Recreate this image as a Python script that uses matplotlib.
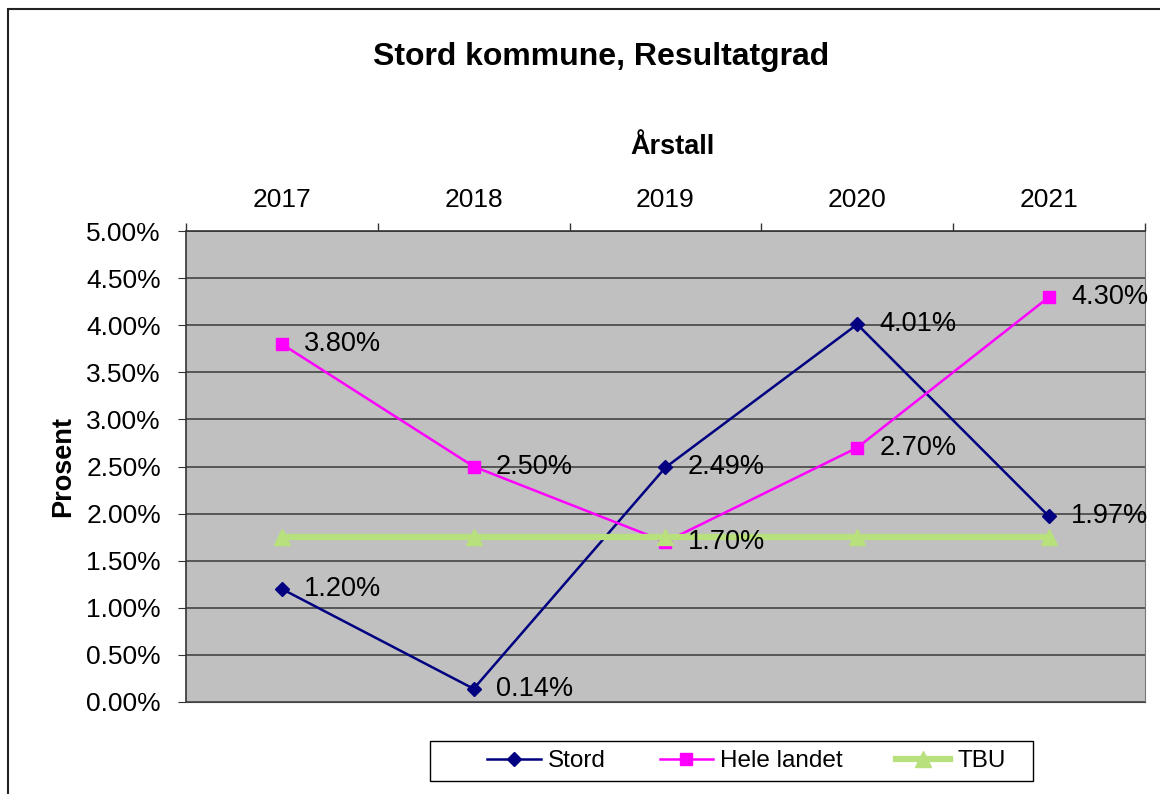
# Stord kommune, resultatgrad 2017-2021 (Excel-style line chart)

import matplotlib.pyplot as plt
from matplotlib.ticker import FuncFormatter, FixedLocator
from matplotlib.patches import Rectangle

plt.rcParams['font.family'] = ['Liberation Sans', 'DejaVu Sans']

years = ['2017', '2018', '2019', '2020', '2021']
stord = [1.20, 0.14, 2.49, 4.01, 1.97]
hele_landet = [3.80, 2.50, 1.70, 2.70, 4.30]
tbu = [1.75, 1.75, 1.75, 1.75, 1.75]

x = list(range(len(years)))

fig = plt.figure(figsize=(11.6, 7.94), dpi=100)
ax = fig.add_axes([0.1603, 0.1159, 0.8267, 0.5931])
ax.set_facecolor('#C0C0C0')

# outer chart frame (only top/left visible in reference)
fig.patches.append(Rectangle((8 / 1160, -0.05), 1.2, 1 - 9 / 794 + 0.05,
                             transform=fig.transFigure, fill=False,
                             edgecolor='#222222', linewidth=1.5))

ax.plot(x, stord, color='#000080', linewidth=1.8, marker='D', markersize=7,
        label='Stord', zorder=3)
ax.plot(x, hele_landet, color='#FF00FF', linewidth=1.8, marker='s', markersize=9,
        label='Hele landet', zorder=3)
ax.plot(x, tbu, color='#B8E07C', linewidth=4.5, marker='^', markersize=11,
        label='TBU', zorder=4)

for xi, v in zip(x, stord):
    ax.annotate('%.2f%%' % v, (xi, v), xytext=(16, 0), textcoords='offset points',
                va='center', ha='left', fontsize=19.5, zorder=5)
for xi, v in zip(x, hele_landet):
    ax.annotate('%.2f%%' % v, (xi, v), xytext=(16, 0), textcoords='offset points',
                va='center', ha='left', fontsize=19.5, zorder=5)

ax.set_xlim(-0.5, 4.5)
ax.set_ylim(0, 5)
ax.set_yticks([i * 0.5 for i in range(11)])
ax.yaxis.set_major_formatter(FuncFormatter(lambda v, p: '%.2f%%' % v))
ax.yaxis.grid(True, color='#444444', linewidth=1.2)
ax.set_axisbelow(True)

# category axis on top: labels at centers, ticks at boundaries
ax.xaxis.tick_top()
ax.xaxis.set_label_position('top')
ax.set_xticks(x)
ax.set_xticklabels(years)
ax.xaxis.set_minor_locator(FixedLocator([i + 0.5 for i in range(-1, 5)]))
ax.tick_params(axis='x', which='major', length=0, labelsize=19, pad=14)
ax.tick_params(axis='x', which='minor', length=6, width=1, color='#333333')
ax.tick_params(axis='y', labelsize=19, length=6, color='#333333', pad=12)

for s in ['left', 'top']:
    ax.spines[s].set_color('#333333')
    ax.spines[s].set_linewidth(1.2)
ax.spines['right'].set_color('#777777')
ax.spines['bottom'].set_color('#444444')

ax.set_xlabel('Årstall', fontsize=19.5, fontweight='bold', labelpad=24)
ax.xaxis.label.set_x(0.507)
ax.set_ylabel('Prosent', fontsize=19.5, fontweight='bold', labelpad=7)
fig.text(0.518, 0.928, 'Stord kommune, Resultatgrad', ha='center', va='center',
         fontsize=23, fontweight='bold')

# legend box drawn separately to get Excel-like padding
fig.patches.append(Rectangle((430 / 1160, 1 - 781 / 794), 603 / 1160, 40 / 794,
                             transform=fig.transFigure, fill=False,
                             edgecolor='black', linewidth=1.0))
leg = fig.legend(loc='center', bbox_to_anchor=(0.6435, 0.041), ncol=3,
                 fontsize=17.5, frameon=False, handlelength=2.2,
                 handletextpad=0.3, columnspacing=2.2)

fig.savefig('out.png', dpi=100)
